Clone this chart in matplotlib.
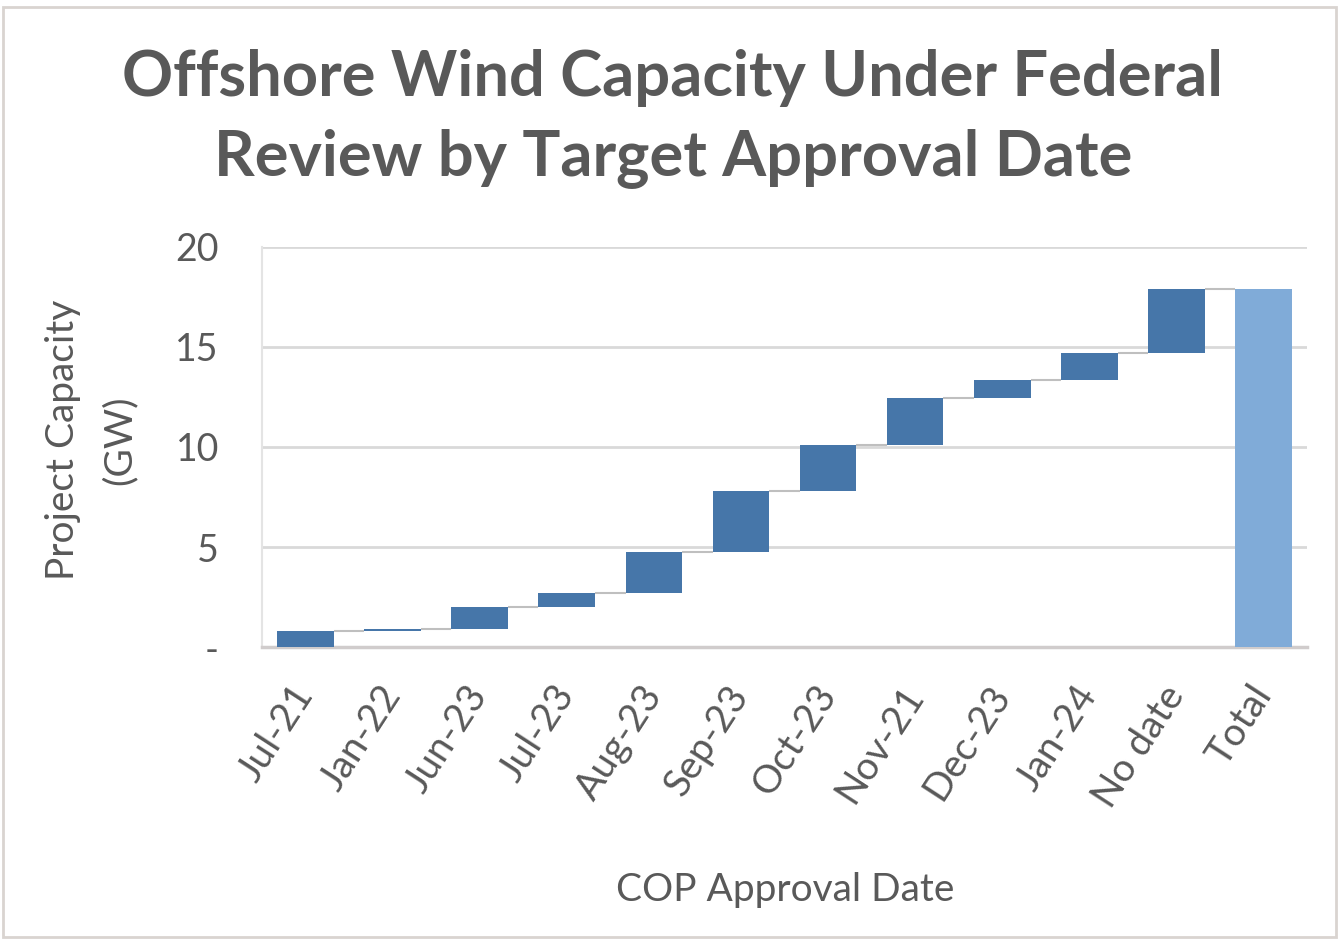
import matplotlib.pyplot as plt
import numpy as np
from matplotlib.patches import Rectangle

categories = ["Jul-21", "Jan-22", "Jun-23", "Jul-23", "Aug-23", "Sep-23",
              "Oct-23", "Nov-21", "Dec-23", "Jan-24", "No date", "Total"]
increments = [0.8, 0.1, 1.1, 0.7, 2.05, 3.05, 2.3, 2.35, 0.9, 1.35, 3.2]
y_ticks = [0, 5, 10, 15, 20]
y_tick_labels = ["-", "5", "10", "15", "20"]

plt.rcParams['font.family'] = ['Lato', 'DejaVu Sans']

W, H = 1339, 940
fig = plt.figure(figsize=(W / 100, H / 100), dpi=100)
fig.patch.set_facecolor("white")

# outer chart frame
fig.add_artist(Rectangle((3 / W, 3 / H), 1 - 6 / W, 1 - 10 / H, transform=fig.transFigure,
                         fill=False, edgecolor="#d9d4d0", linewidth=2))

left, right, top, bottom = 262, 1307, 247, 647
ax = fig.add_axes([left / W, 1 - bottom / H, (right - left) / W, (bottom - top) / H])

ends = np.cumsum(increments)
starts = ends - np.array(increments)
total = ends[-1]
x = np.arange(len(categories))
bw = 0.65

bar_color = "#4676a9"
total_color = "#80abd8"
ax.bar(x[:-1], increments, bottom=starts, width=bw, color=bar_color, zorder=3)
ax.bar(x[-1], total, width=bw, color=total_color, zorder=3)

# connector lines between consecutive bars
levels = list(ends)
for i, lv in enumerate(levels):
    ax.plot([x[i] + bw / 2, x[i + 1] - bw / 2], [lv, lv], color="#bfbfbf",
            linewidth=1.5, zorder=2, solid_capstyle="butt")

ax.set_xlim(-0.5, len(categories) - 0.5)
ax.set_ylim(0, 20)
ax.set_yticks(y_ticks)
ax.set_yticklabels(y_tick_labels)
ax.yaxis.grid(True, color="#d9d9d9", linewidth=2)
ax.set_axisbelow(True)
for s in ["top", "right"]:
    ax.spines[s].set_visible(False)
ax.spines["left"].set_color("#e4e4e4")
ax.spines["left"].set_linewidth(1.5)
ax.spines["bottom"].set_color("#d0cccc")
ax.spines["bottom"].set_linewidth(2.5)
ax.tick_params(axis="both", length=0, labelsize=27, labelcolor="#595959")
ax.tick_params(axis="y", pad=31)
ax.set_xticks(x)
ax.set_xticklabels(categories, rotation=57, ha="right", va="center",
                   rotation_mode="anchor", fontsize=28, color="#595959")
ax.tick_params(axis="x", pad=30)

fig.text(785 / W, 1 - 890 / H, "COP Approval Date", ha="center", va="center",
         fontsize=28, color="#595959")
fig.text(63 / W, 1 - 440 / H, "Project Capacity", ha="center", va="center",
         rotation=90, fontsize=28, color="#595959")
fig.text(120 / W, 1 - 440 / H, "(GW)", ha="center", va="center",
         rotation=90, fontsize=28, color="#595959")

fig.text(673 / W, 1 - 78 / H, "Offshore Wind Capacity Under Federal", ha="center",
         va="center", fontsize=45.5, fontweight="bold", color="#595959")
fig.text(673 / W, 1 - 158 / H, "Review by Target Approval Date", ha="center",
         va="center", fontsize=45.5, fontweight="bold", color="#595959")

fig.savefig("out.png", dpi=100, facecolor="white")
